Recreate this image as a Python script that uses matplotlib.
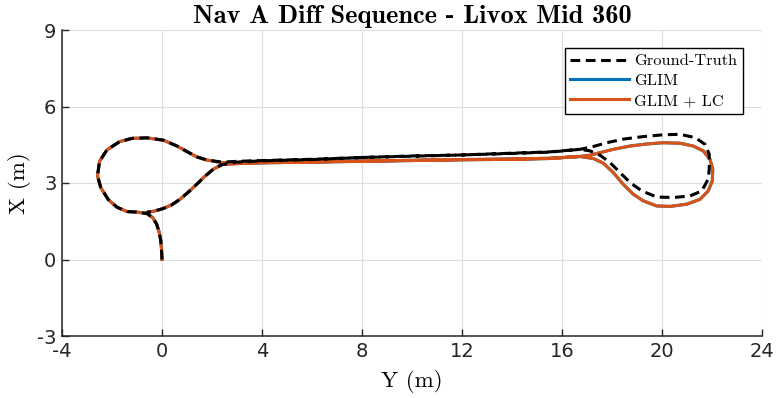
import matplotlib
matplotlib.use("Agg")
from matplotlib import pyplot as plt

# trajectory points (Y horizontal, X vertical), metres
gt_y = [0.0, -0.02, -0.05, -0.12, -0.22, -0.38, -0.6,
        -1.0, -1.4, -1.8, -2.15, -2.45, -2.58, -2.5, -2.2, -1.7, -1.2, -0.6,
        0.05, 0.6, 1.0, 1.4, 1.8, 2.4, 3.0,
        4.0, 6.0, 8.0, 10.0, 12.0, 14.0, 15.5, 16.72,
        17.25, 17.79, 18.45, 19.25, 20.05, 20.72, 21.32, 21.72, 21.89, 21.89,
        21.85, 21.59, 21.12, 20.45, 19.79, 19.19, 18.72, 18.32, 17.92, 17.52,
        17.12, 16.72,
        15.5, 14.0, 12.0, 10.0, 8.0, 6.0, 4.0, 3.0,
        2.4, 2.05, 1.7, 1.39, 1.05, 0.72, 0.4, 0.05, -0.3, -0.6]
gt_x = [0.0, 0.4, 0.75, 1.1, 1.4, 1.65, 1.8,
        1.86, 1.88, 2.05, 2.35, 2.82, 3.28, 3.85, 4.3, 4.62, 4.75, 4.77,
        4.68, 4.45, 4.23, 4.02, 3.9, 3.82, 3.85,
        3.88, 3.93, 4.0, 4.06, 4.1, 4.17, 4.22, 4.32,
        4.43, 4.58, 4.72, 4.82, 4.89, 4.91, 4.78, 4.52, 4.13, 3.54,
        3.15, 2.69, 2.49, 2.43, 2.45, 2.69, 3.02, 3.41, 3.80, 4.09,
        4.26, 4.32,
        4.21, 4.16, 4.1, 4.05, 4.0, 3.92, 3.87, 3.82,
        3.72, 3.54, 3.25, 2.95, 2.64, 2.36, 2.15, 2.0, 1.9, 1.85]

lc_y = [0.0, -0.02, -0.05, -0.12, -0.22, -0.38, -0.6,
        -1.0, -1.4, -1.8, -2.15, -2.45, -2.58, -2.5, -2.2, -1.7, -1.2, -0.6,
        0.05, 0.6, 1.0, 1.4, 1.8, 2.4, 3.0,
        4.0, 6.0, 8.0, 10.0, 12.0, 14.0, 15.5, 16.72,
        17.12, 17.52, 18.05, 18.72, 19.39, 20.05, 20.72, 21.25, 21.65, 21.92,
        22.03, 22.01, 21.85, 21.52, 20.99, 20.32, 19.79, 19.25, 18.85, 18.45,
        18.05, 17.65, 17.25, 16.72,
        15.5, 14.0, 12.0, 10.0, 8.0, 6.0, 4.0, 3.0,
        2.4, 2.05, 1.7, 1.39, 1.05, 0.72, 0.4, 0.05, -0.3, -0.6]
lc_x = [0.0, 0.4, 0.75, 1.1, 1.4, 1.65, 1.8,
        1.86, 1.88, 2.05, 2.35, 2.82, 3.28, 3.85, 4.3, 4.62, 4.75, 4.77,
        4.68, 4.45, 4.23, 4.02, 3.9, 3.8, 3.8,
        3.8, 3.83, 3.86, 3.89, 3.92, 3.94, 3.97, 4.04,
        4.09, 4.19, 4.32, 4.45, 4.53, 4.58, 4.56, 4.45, 4.26, 3.93,
        3.54, 3.08, 2.69, 2.36, 2.17, 2.08, 2.10, 2.30, 2.56, 2.95,
        3.41, 3.78, 3.96, 4.04,
        3.96, 3.93, 3.91, 3.88, 3.85, 3.82, 3.79, 3.76,
        3.72, 3.54, 3.25, 2.95, 2.64, 2.36, 2.15, 2.0, 1.9, 1.85]

# GLIM alone lies under GLIM + LC in the reference
glim_y = list(lc_y)
glim_x = list(lc_x)

x_ticks = [-4, 0, 4, 8, 12, 16, 20, 24]
y_ticks = [-3, 0, 3, 6, 9]

plt.rcParams["lines.scale_dashes"] = False

fig = plt.figure(figsize=(7.76, 3.98), dpi=100)
ax = fig.add_axes([62 / 776, 62 / 398, 700 / 776, 306 / 398])

l_glim, = ax.plot(glim_y, glim_x, color="#0072BD", lw=2.2, label="GLIM", zorder=3)
l_lc, = ax.plot(lc_y, lc_x, color="#D95319", lw=2.2, label="GLIM + LC", zorder=4)
l_gt, = ax.plot(gt_y, gt_x, color="black", lw=2.2, dashes=(7, 4),
                label="Ground-Truth", zorder=5)

ax.set_xlim(-4, 24)
ax.set_ylim(-3, 9)
ax.set_xticks(x_ticks)
ax.set_yticks(y_ticks)
ax.set_xticklabels([str(t) for t in x_ticks])
ax.set_yticklabels([str(t) for t in y_ticks])
ax.grid(True, color="#dedede", lw=0.8)
ax.set_axisbelow(True)
for s in ("top", "right"):
    ax.spines[s].set_visible(False)
for s in ("left", "bottom"):
    ax.spines[s].set_color("#262626")
    ax.spines[s].set_linewidth(1.1)
ax.tick_params(direction="in", length=5, width=1, colors="#262626",
               labelsize=14, pad=4)

ax.set_title("Nav A Diff Sequence - Livox Mid 360", family="cmb10",
             fontsize=19, pad=5)
ax.set_xlabel("Y (m)", family="cmr10", fontsize=16.5, labelpad=7)
ax.set_ylabel("X (m)", family="cmr10", fontsize=16.5, labelpad=4)

leg = ax.legend(handles=[l_gt, l_glim, l_lc], loc="upper right",
                bbox_to_anchor=(0.973, 0.941), prop={"family": "cmr10", "size": 11.8},
                frameon=True, fancybox=False, framealpha=1, edgecolor="black",
                handlelength=3.6, handletextpad=0.3, labelspacing=0.33,
                borderpad=0.35, borderaxespad=0)
leg.get_frame().set_linewidth(1.0)

fig.savefig("out.png", dpi=100)
